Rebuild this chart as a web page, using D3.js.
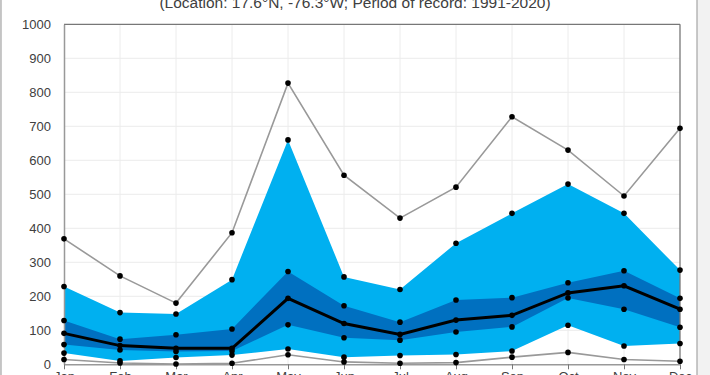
<!DOCTYPE html>
<html><head><meta charset="utf-8">
<script src="https://cdn.jsdelivr.net/npm/d3@7"></script>
<style>
html,body{margin:0;padding:0;background:#f2f2f2;overflow:hidden;}
svg{display:block;}
text{font-family:"Liberation Sans",Arial,sans-serif;fill:#404040;}
</style></head>
<body>
<svg id="chart" width="710" height="375"></svg>
<script>
const months = ["Jan","Feb","Mar","Apr","May","Jun","Jul","Aug","Sep","Oct","Nov","Dec"];
const maxVals = [369, 260, 180, 387, 827, 556, 430, 521, 728, 630, 495, 694];
const p90 = [229, 152, 148, 249, 660, 257, 220, 356, 444, 530, 444, 277];
const p75 = [129, 74, 87, 104, 273, 172, 124, 189, 196, 240, 275, 194];
const median = [91, 55, 47, 47, 194, 120, 88, 130, 144, 210, 231, 162];
const p25 = [58, 42, 38, 39, 116, 78, 71, 95, 110, 195, 162, 109];
const p10 = [33, 10, 20, 27, 45, 21, 26, 29, 39, 115, 54, 61];
const minVals = [14, 4, 1, 3, 28, 7, 3, 5, 21, 35, 14, 9];
const yTicks = [0,100,200,300,400,500,600,700,800,900,1000];
const subtitle = "(Location: 17.6°N, -76.3°W; Period of record: 1991-2020)";

const svg = d3.select("#chart");
const L = 64, R = 680, T = 24.3, B = 364.3;
const x = d3.scalePoint().domain(months).range([L, R]);
const y = d3.scaleLinear().domain([0, 1000]).range([B, T]);

// chart area
svg.append("rect").attr("x",1).attr("y",-5).attr("width",696).attr("height",390)
  .attr("fill","#fff").attr("stroke","#a6a6a6").attr("stroke-width",1.2);

// gridlines
svg.append("g").selectAll("line").data(yTicks.slice(1,-1)).join("line")
  .attr("x1",L).attr("x2",R).attr("y1",d=>y(d)).attr("y2",d=>y(d))
  .attr("stroke","#ececec").attr("stroke-width",1);
svg.append("g").selectAll("line").data(months.slice(1,-1)).join("line")
  .attr("x1",d=>x(d)).attr("x2",d=>x(d)).attr("y1",T).attr("y2",B)
  .attr("stroke","#ececec").attr("stroke-width",1);

const idx = d3.range(months.length);
const area = (lo, hi) => d3.area().x(i=>x(months[i])).y0(i=>y(lo[i])).y1(i=>y(hi[i]));
svg.append("path").attr("d", area(p10,p90)(idx)).attr("fill","#00b0f0");
svg.append("path").attr("d", area(p25,p75)(idx)).attr("fill","#0070c0");

const line = arr => d3.line().x(i=>x(months[i])).y(i=>y(arr[i]))(idx);
svg.append("path").attr("d", line(maxVals)).attr("fill","none").attr("stroke","#999").attr("stroke-width",1.6);
svg.append("path").attr("d", line(minVals)).attr("fill","none").attr("stroke","#999").attr("stroke-width",1.6);
svg.append("path").attr("d", line(median)).attr("fill","none").attr("stroke","#000").attr("stroke-width",3);

// frame
svg.append("line").attr("x1",L).attr("x2",R).attr("y1",T).attr("y2",T).attr("stroke","#777").attr("stroke-width",1.3);
svg.append("line").attr("x1",R).attr("x2",R).attr("y1",T).attr("y2",B).attr("stroke","#777").attr("stroke-width",1.3);

// axes
const yAxis = d3.axisLeft(y).tickValues(yTicks).tickFormat(d3.format("d")).tickSize(0).tickPadding(13);
const gy = svg.append("g").attr("transform",`translate(${L},0)`).call(yAxis);
gy.select(".domain").attr("stroke","#999").attr("stroke-width",1.5);
gy.selectAll("text").attr("font-size","13px").attr("fill","#333").style("font-family","'Liberation Sans',Arial,sans-serif");

const xAxis = d3.axisBottom(x).tickSize(5).tickPadding(2).tickSizeOuter(0);
const gx = svg.append("g").attr("transform",`translate(0,${B})`).call(xAxis);
gx.select(".domain").attr("stroke","#999").attr("stroke-width",1.5);
gx.selectAll(".tick line").attr("stroke","#777");
gx.selectAll("text").attr("font-size","13px").attr("fill","#333").style("font-family","'Liberation Sans',Arial,sans-serif");

// dots
const allSeries = [maxVals,p90,p75,median,p25,p10,minVals];
const pts = [];
allSeries.forEach(s => s.forEach((v,i)=>pts.push([months[i], v])));
svg.append("g").selectAll("circle").data(pts).join("circle")
  .attr("cx",d=>x(d[0])).attr("cy",d=>y(d[1])).attr("r",2.8).attr("fill","#000");

// subtitle
svg.append("text").attr("x",355).attr("y",8).attr("text-anchor","middle")
  .attr("font-size","15.5px").attr("fill","#222").text(subtitle);
</script>
</body></html>
